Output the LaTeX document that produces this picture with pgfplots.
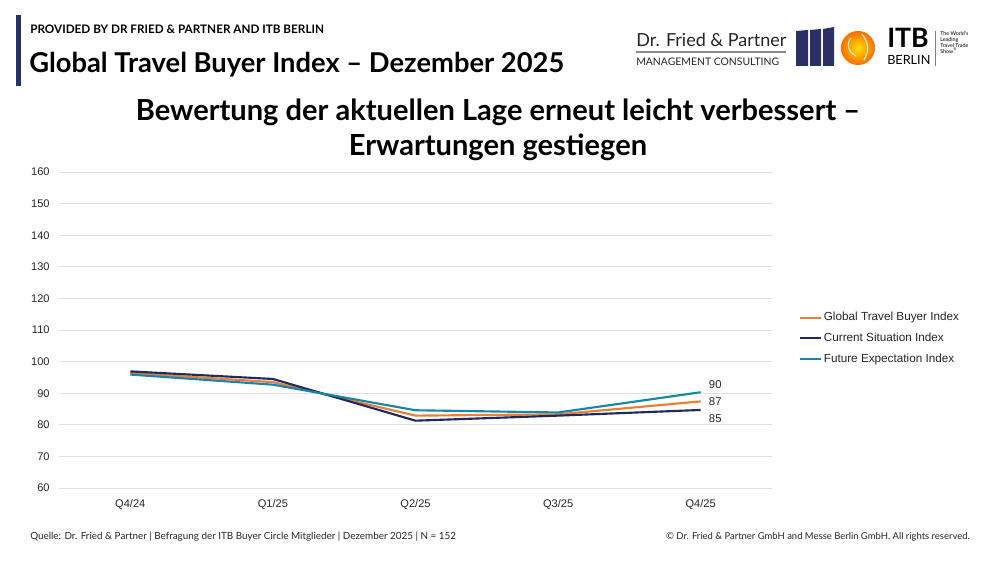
\documentclass[border=0pt]{standalone}
\usepackage{pgfplots}
\pgfplotsset{compat=1.18}
\usepackage{fontspec}
\setmainfont{Liberation Sans}
\newfontfamily\headfont{Lato}
\definecolor{gtbi}{HTML}{ED7D31}
\definecolor{csi}{HTML}{1F2A5E}
\definecolor{fei}{HTML}{1687A7}
\definecolor{navy}{HTML}{2A3166}
\definecolor{txt}{HTML}{262626}

\begin{document}
\begin{tikzpicture}
\path[use as bounding box, fill=white] (0,0) rectangle (750pt,422.25pt);

\begin{axis}[
  scale only axis,
  width=534.75pt, height=237pt,
  anchor=south west, at={(44.25pt,56.25pt)},
  xmin=-0.5, xmax=4.5, ymin=60, ymax=160,
  xtick={0,1,2,3,4},
  xticklabels={Q4/24,Q1/25,Q2/25,Q3/25,Q4/25},
  ytick={60,70,...,160},
  ymajorgrids,
  grid style={black!12, line width=0.7pt},
  axis line style={draw=none},
  major tick style={draw=none},
  /pgf/number format/assume math mode=true,
  ticklabel style={font=\fontsize{8.3}{10}\selectfont, text=txt},
  yticklabel style={xshift=-3.5pt},
  xticklabel style={yshift=-5pt},
  legend style={at={(1.037,0.565)}, anchor=north west, draw=none, fill=none,
    font=\fontsize{8.8}{10.5}\selectfont, text=txt, row sep=3.6pt, inner sep=0pt,
    nodes={inner xsep=1.5pt}},
  legend cell align=left,
  legend image code/.code={\draw[#1, line width=1.4pt] (0pt,0pt) -- (16pt,0pt);},
  every axis plot/.append style={line width=1.6pt, line join=round},
  clip=false,
]
\addplot[gtbi, mark=none] coordinates {(0,96.4) (1,93.5) (2,82.9) (3,83.3) (4,87.4)};
\addlegendentry{Global Travel Buyer Index}
\addplot[csi, mark=none] coordinates {(0,96.9) (1,94.5) (2,81.3) (3,82.9) (4,84.7)};
\addlegendentry{Current Situation Index}
\addplot[fei, mark=none] coordinates {(0,95.9) (1,92.7) (2,84.6) (3,83.9) (4,90.3)};
\addlegendentry{Future Expectation Index}

\node[anchor=west, font=\fontsize{8.5}{10}\selectfont, text=txt] at (axis cs:4.025,92.6) {90};
\node[anchor=west, font=\fontsize{8.5}{10}\selectfont, text=txt] at (axis cs:4.025,87.2) {87};
\node[anchor=west, font=\fontsize{8.5}{10}\selectfont, text=txt] at (axis cs:4.025,81.9) {85};
\end{axis}

\begin{scope}[x=0.75pt, y=-0.75pt, yshift=422.25pt]
  % header
  \fill[navy] (16,15) rectangle (21,86);
  \node[anchor=base west, inner sep=0pt, font=\headfont\bfseries\fontsize{8.8}{11}\selectfont] at (30,34) {PROVIDED BY DR FRIED \& PARTNER AND ITB BERLIN};
  \node[anchor=base west, inner sep=0pt, font=\headfont\bfseries\fontsize{20.5}{24}\selectfont] at (29,73) {Global Travel Buyer Index – Dezember 2025};
  % subtitle
  \node[align=center, inner sep=0pt, font=\headfont\bfseries\fontsize{21.8}{26.3}\selectfont] at (498,130) {Bewertung der aktuellen Lage erneut leicht verbessert –\\Erwartungen gestiegen};
  % logo Dr. Fried & Partner
  \node[anchor=base west, inner sep=0pt, font=\headfont\fontsize{13.5}{16}\selectfont, text=black!85] at (636,47) {Dr. Fried \& Partner};
  \draw[black!45, line width=0.8pt] (636,52) -- (786,52);
  \node[anchor=base west, inner sep=0pt, font=\headfont\fontsize{7.8}{9}\selectfont, text=black!85] at (636,66) {MANAGEMENT CONSULTING};
  \fill[navy] (796,31) -- (808,30) -- (808,66) -- (796,66) -- cycle;
  \fill[navy] (810,30) -- (821,29) -- (821,66) -- (810,66) -- cycle;
  \fill[navy] (823,29) -- (834,27) -- (834,66) -- (823,66) -- cycle;
  % ITB globe
  \shade[inner color=yellow!75!orange, outer color=orange!85!red] (858,48) circle (17);
  \draw[white, line width=0.9pt, opacity=0.8] (851,38) .. controls (846,44) and (848,52) .. (856,56) (862,34) .. controls (868,42) and (870,50) .. (864,60);
  \node[anchor=base west, inner sep=0pt, font=\headfont\bfseries\fontsize{20}{22}\selectfont] at (887,48) {ITB};
  \node[anchor=base west, inner sep=0pt, font=\headfont\fontsize{9.5}{11}\selectfont] at (887,65) {BERLIN};
  \draw[black!50, line width=0.5pt] (935,31) -- (935,66);
  \node[anchor=north west, inner sep=0pt, align=left, font=\headfont\fontsize{4}{4.6}\selectfont] at (940,31) {The World's\\Leading\\Travel Trade\\Show\textsuperscript{®}};
  % footer
  \node[anchor=base west, inner sep=0pt, font=\headfont\fontsize{7.4}{9}\selectfont, text=txt] at (30,540) {Quelle: Dr. Fried \& Partner | Befragung der ITB Buyer Circle Mitglieder | Dezember 2025 | N = 152};
  \node[anchor=base east, inner sep=0pt, font=\headfont\fontsize{7.1}{9}\selectfont, text=txt] at (970,540) {© Dr. Fried \& Partner GmbH and Messe Berlin GmbH. All rights reserved.};
\end{scope}
\end{tikzpicture}
\end{document}
